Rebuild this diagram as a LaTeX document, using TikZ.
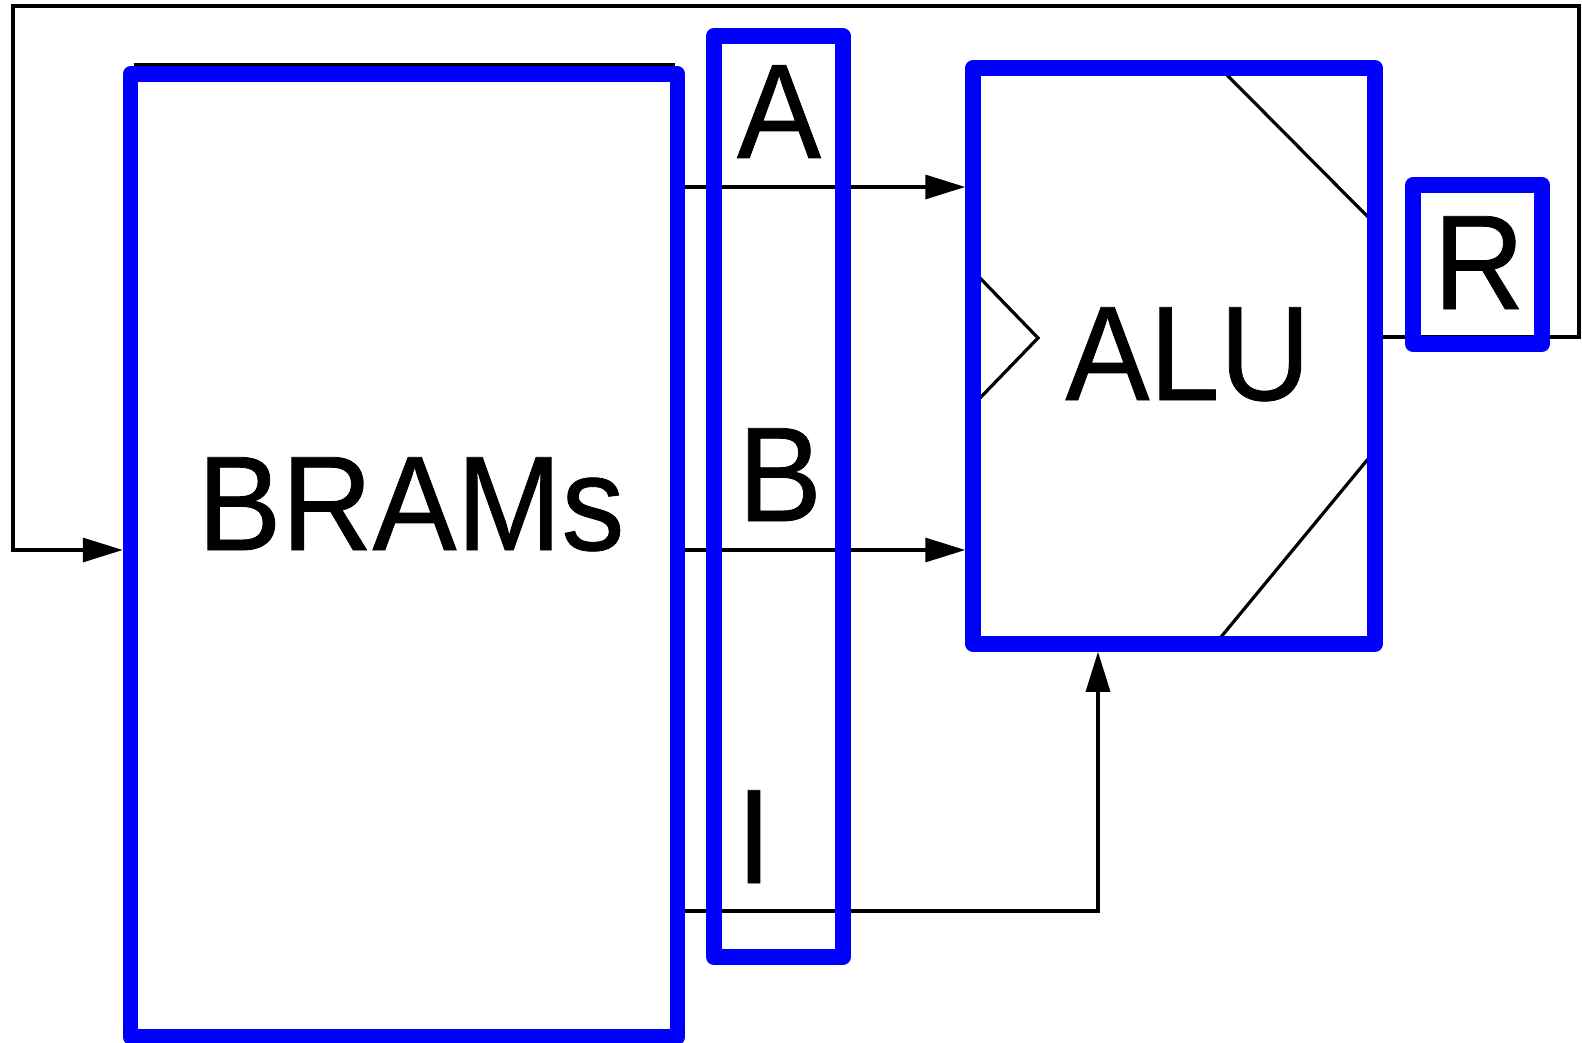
\documentclass[tikz,border=0pt]{standalone}
\usepackage{fontspec}
\setmainfont{Liberation Sans}
\newfontfamily\lblfont[FakeBold=0.6]{Liberation Sans}
\usetikzlibrary{arrows.meta,backgrounds}
\newcommand{\tallt}[1]{\scalebox{1}[1.07]{#1}}
\tikzset{
  box/.style={draw=blue, line width=15.5pt, line join=round, rectangle, inner sep=0pt, fill=none},
  wire/.style={draw=black, line width=3.2pt},
  arr/.style={wire, -{Triangle[length=40pt,width=24pt]}},
  lbl/.style={anchor=base, inner sep=0pt, font=\lblfont\fontsize{126}{130}\selectfont}
}
\begin{document}
\begin{tikzpicture}[x=1pt,y=-1pt]
\useasboundingbox (0,0) rectangle (1582,1043);
% boxes
\node[box, minimum width=547pt, minimum height=963pt] (BRAMs) at (404,555.5) {};
\node[box, minimum width=129.3pt, minimum height=921pt] (regs) at (778.4,496.5) {};
\node[box, minimum width=402pt, minimum height=576pt] (ALU) at (1174,356) {};
\node[box, minimum width=129pt, minimum height=159pt] (R) at (1477.5,264.5) {};
% labels
\node[lbl] (tB) at (411,550) {\tallt{BRAMs}};
\node[lbl] (tA) at (779,158) {\tallt{A}};
\node[lbl] (tBb) at (780,521) {\tallt{B}};
\node[lbl] (tI) at (754,883) {\tallt{I}};
\node[lbl] (tALU) at (1188,400) {\tallt{ALU}};
\node[lbl] (tR) at (1479,309) {\tallt{R}};
% helper coordinates
\coordinate (yA) at (0,187);
\coordinate (yB) at (0,550);
\coordinate (yI) at (0,911);
\coordinate (xI) at (1098,0);
\coordinate (yR) at (0,337);
\coordinate (fbR) at (1579,337);
\coordinate (fbTL) at (13,6);
\begin{scope}[on background layer]
  \fill[white] (0,0) rectangle (1582,1043);
  \draw[wire] (134,65) -- (675,65);
  \draw[arr] (BRAMs.east |- yA) -- (ALU.west |- yA);
  \draw[arr] (BRAMs.east |- yB) -- (ALU.west |- yB);
  \draw[arr] (BRAMs.east |- yI) -| (ALU.south -| xI);
  \draw[arr] (ALU.east |- yR) -- (fbR) |- (fbTL) |- (BRAMs.west |- yB);
  % ALU symbol
  \draw[wire] (1226,74) -- (1368,217);
  \draw[wire] (1368,459) -- (1221,637);
  \draw[wire] (980,278) -- (1038,338) -- (980,398);
\end{scope}
\end{tikzpicture}
\end{document}
